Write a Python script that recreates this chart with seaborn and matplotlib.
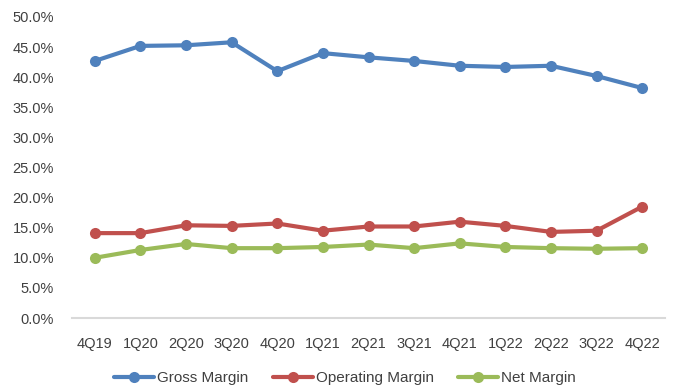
import matplotlib
matplotlib.use("Agg")
import matplotlib.pyplot as plt
import matplotlib.ticker as mticker
import seaborn as sns
import pandas as pd

categories = ["4Q19", "1Q20", "2Q20", "3Q20", "4Q20", "1Q21", "2Q21",
              "3Q21", "4Q21", "1Q22", "2Q22", "3Q22", "4Q22"]
gross_margin = [42.7, 45.2, 45.3, 45.8, 41.0, 44.0, 43.3, 42.7, 41.9, 41.7, 41.9, 40.2, 38.2]
operating_margin = [14.1, 14.1, 15.4, 15.3, 15.7, 14.5, 15.2, 15.2, 16.0, 15.3, 14.3, 14.5, 18.5]
net_margin = [10.0, 11.3, 12.3, 11.6, 11.6, 11.8, 12.2, 11.6, 12.4, 11.8, 11.6, 11.5, 11.6]
series_names = ["Gross Margin", "Operating Margin", "Net Margin"]
colors = ["#4F81BD", "#C0504D", "#9BBB59"]

sns.set_style("white")
plt.rcParams['font.family'] = ['Liberation Sans', 'DejaVu Sans']

fig = plt.figure(figsize=(6.76, 3.88), dpi=100)
ax = fig.add_axes([72/676, 1 - 318/388, (665-72)/676, (318-17)/388])

for name, vals, c in zip(series_names, [gross_margin, operating_margin, net_margin], colors):
    df = pd.DataFrame({"q": categories, "v": vals})
    sns.lineplot(data=df, x="q", y="v", ax=ax, color=c, linewidth=3.0,
                 marker="o", markersize=8, markeredgewidth=0, label=name)

ax.set_xlim(-0.5, len(categories) - 0.5)
ax.set_ylim(0, 50)
ax.yaxis.set_major_locator(mticker.MultipleLocator(5))
ax.yaxis.set_major_formatter(mticker.FuncFormatter(lambda v, p: f"{v:.1f}%"))
ax.set_xlabel("")
ax.set_ylabel("")
for s in ["top", "right", "left"]:
    ax.spines[s].set_visible(False)
ax.spines["bottom"].set_color("#D9D9D9")
ax.spines["bottom"].set_linewidth(1.5)
ax.tick_params(axis="both", length=0, labelsize=10.5, colors="#404040")
ax.tick_params(axis="y", pad=13)
ax.tick_params(axis="x", pad=14)
ax.grid(False)

ax.get_legend().remove()
handles, labels = ax.get_legend_handles_labels()
leg = fig.legend(handles, labels, loc="center", bbox_to_anchor=(345/676, 1 - 378/388), ncol=3,
                 frameon=False, fontsize=11, handlelength=2.6, columnspacing=1.6,
                 handletextpad=0.2, borderaxespad=0)
for t in leg.get_texts():
    t.set_color("#404040")

fig.savefig("out.png", dpi=100)
